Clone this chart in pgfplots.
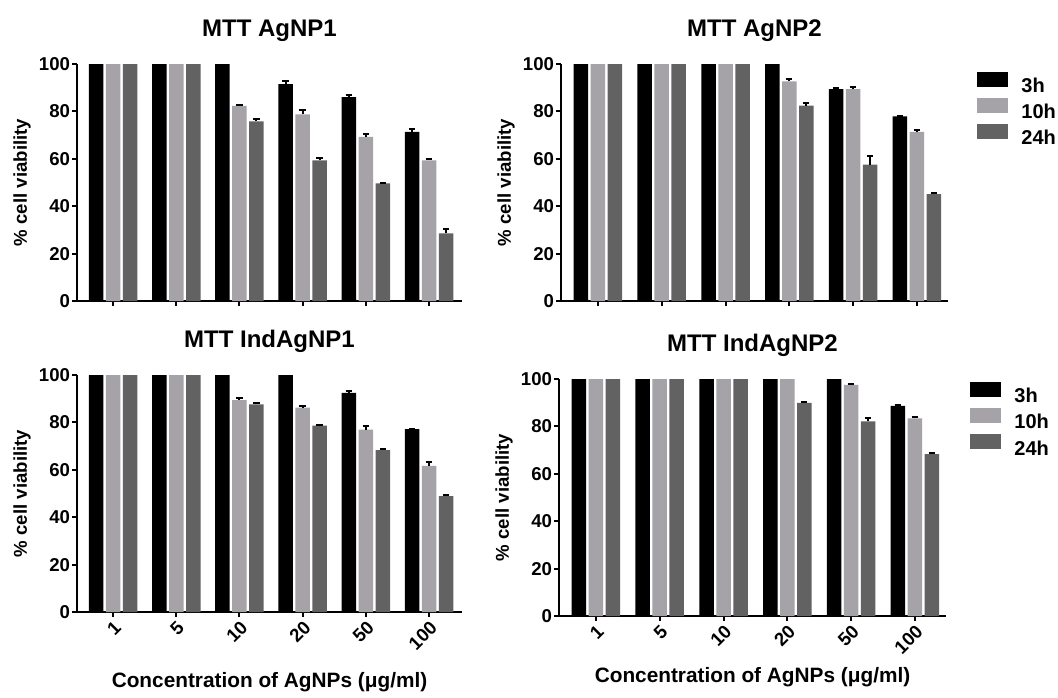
\documentclass[border=0pt]{standalone}
\usepackage{fontspec}
\setmainfont{Liberation Sans}
\usepackage{pgfplots}
\usepackage{pgfplotstable}
\pgfplotsset{compat=1.18}

\definecolor{lgray}{RGB}{165,162,168}
\definecolor{dgray}{RGB}{98,98,98}

% x = category index (1,5,10,20,50,100 ug/ml), t = mean, e = upper error
\pgfplotstableread{
x t3 e3 t10 e10 t24 e24
0 100 0 100 0 100 0
1 100 0 100 0 100 0
2 100 0 82.3 0.4 75.8 1.0
3 91.5 1.2 78.8 2.0 59.3 1.0
4 86.0 0.9 69.3 1.0 49.6 0.4
5 71.4 1.0 59.3 0.6 28.5 2.0
}\agA
\pgfplotstableread{
x t3 e3 t10 e10 t24 e24
0 100 0 100 0 100 0
1 100 0 100 0 100 0
2 100 0 100 0 100 0
3 100 0 92.7 1.0 82.4 1.0
4 89.4 0.5 89.4 1.0 57.5 3.5
5 77.9 0.2 71.4 0.8 45.1 0.5
}\agB
\pgfplotstableread{
x t3 e3 t10 e10 t24 e24
0 100 0 100 0 100 0
1 100 0 100 0 100 0
2 100 0 89.4 1.0 87.6 0.7
3 100 0 86.2 0.6 78.6 0.3
4 92.5 0.7 77.0 1.5 68.3 0.3
5 77.2 0.2 61.7 1.5 48.9 0.4
}\indA
\pgfplotstableread{
x t3 e3 t10 e10 t24 e24
0 100 0 100 0 100 0
1 100 0 100 0 100 0
2 100 0 100 0 100 0
3 100 0 100 0 89.9 0.4
4 100 0 97.5 0.4 82.1 1.5
5 88.7 0.3 83.4 0.6 68.3 0.5
}\indB

\pgfplotsset{
  panel/.style={
    scale only axis, width=192.5pt, height=118.5pt,
    axis x line*=bottom, axis y line*=left,
    xmin=-0.57, xmax=5.52, ymin=0, ymax=100,
    xtick={0,...,5}, ytick={0,20,...,100},
    tick align=outside, major tick length=2.3pt,
    axis line style={line width=1pt},
    tick style={black, line width=1pt},
    tick label style={font=\fontsize{9.3}{10}\selectfont\bfseries},
    /pgf/number format/assume math mode=true,
    yticklabel style={inner sep=1pt},
    ylabel={\% cell viability},
    ylabel style={font=\fontsize{9.3}{11}\selectfont\bfseries,
      at={([xshift=-27.5pt]axis description cs:0,0.5)}, anchor=center},
    title style={font=\fontsize{12}{14}\selectfont\bfseries,
      at={(0.5,1)}, anchor=base, yshift=8pt},
    clip=false,
  },
  toprow/.style={xticklabels={}},
  botrow/.style={
    xticklabels={1,5,10,20,50,100},
    xticklabel style={rotate=45, anchor=north east, inner sep=1pt},
    xlabel={Concentration of AgNPs (μg/ml)},
    xlabel style={font=\fontsize{10.4}{12}\selectfont\bfseries,
      at={([yshift=-35pt]axis description cs:0.5,0)}, anchor=center},
  },
  withlegend/.style={
    legend style={at={(#1)}, anchor=north west, draw=none, fill=none,
      inner sep=0pt, row sep=1.3pt, column sep=6.5pt,
      font=\fontsize{10}{12}\selectfont\bfseries, nodes={inner sep=0pt}},
    legend cell align=left,
  },
  vbar/.style 2 args={ybar, bar width=7.25pt, bar shift=#1, fill=#2, draw=none,
    legend image code/.code={\fill[#2] (0pt,0pt) rectangle (15.5pt,7.5pt);}},
  % error bars only for rows from index #2 on (rows before have no error)
  ebar/.style 2 args={ybar, bar width=7.25pt, bar shift=#1, draw=none, fill=none,
    forget plot, skip coords between index={0}{#2},
    error bars/.cd, y dir=plus, y explicit,
    error bar style={black, line width=1pt, xshift=#1},
    error mark options={black, line width=1pt, mark size=1.6pt, rotate=90}},
}

\newcommand{\bars}[4]{%
  \addplot[vbar={-8.5pt}{black}] table[x=x,y=t3] {#1};
  \addplot[vbar={0pt}{lgray}] table[x=x,y=t10] {#1};
  \addplot[vbar={8.5pt}{dgray}] table[x=x,y=t24] {#1};
  \addplot[ebar={-8.5pt}{#2}] table[x=x,y=t3,y error=e3] {#1};
  \addplot[ebar={0pt}{#3}] table[x=x,y=t10,y error=e10] {#1};
  \addplot[ebar={8.5pt}{#4}] table[x=x,y=t24,y error=e24] {#1};
}

\begin{document}
\begin{tikzpicture}
\useasboundingbox (0,0) rectangle (529pt,-348.5pt);

\begin{axis}[panel, toprow, at={(38.5pt,-32pt)}, anchor=north west,
  title={MTT AgNP1}]
\bars{\agA}{3}{2}{2}
\end{axis}

\begin{axis}[panel, toprow, at={(280.5pt,-32pt)}, anchor=north west,
  width=193.5pt, xmax=5.49, xmin=-0.58, title={MTT AgNP2},
  withlegend={1.075,0.97}]
\bars{\agB}{4}{3}{3}
\legend{3h,10h,24h}
\end{axis}

\begin{axis}[panel, botrow, at={(38.5pt,-187.5pt)}, anchor=north west,
  title={MTT IndAgNP1}]
\bars{\indA}{4}{2}{2}
\end{axis}

\begin{axis}[panel, botrow, at={(279.5pt,-189.5pt)}, anchor=north west,
  width=193.5pt, xmax=5.49, xmin=-0.58, title={MTT IndAgNP2},
  withlegend={1.062,0.99},
  xlabel style={at={([yshift=-30.5pt]axis description cs:0.5,0)}}]
\bars{\indB}{5}{4}{3}
\legend{3h,10h,24h}
\end{axis}
\end{tikzpicture}
\end{document}
